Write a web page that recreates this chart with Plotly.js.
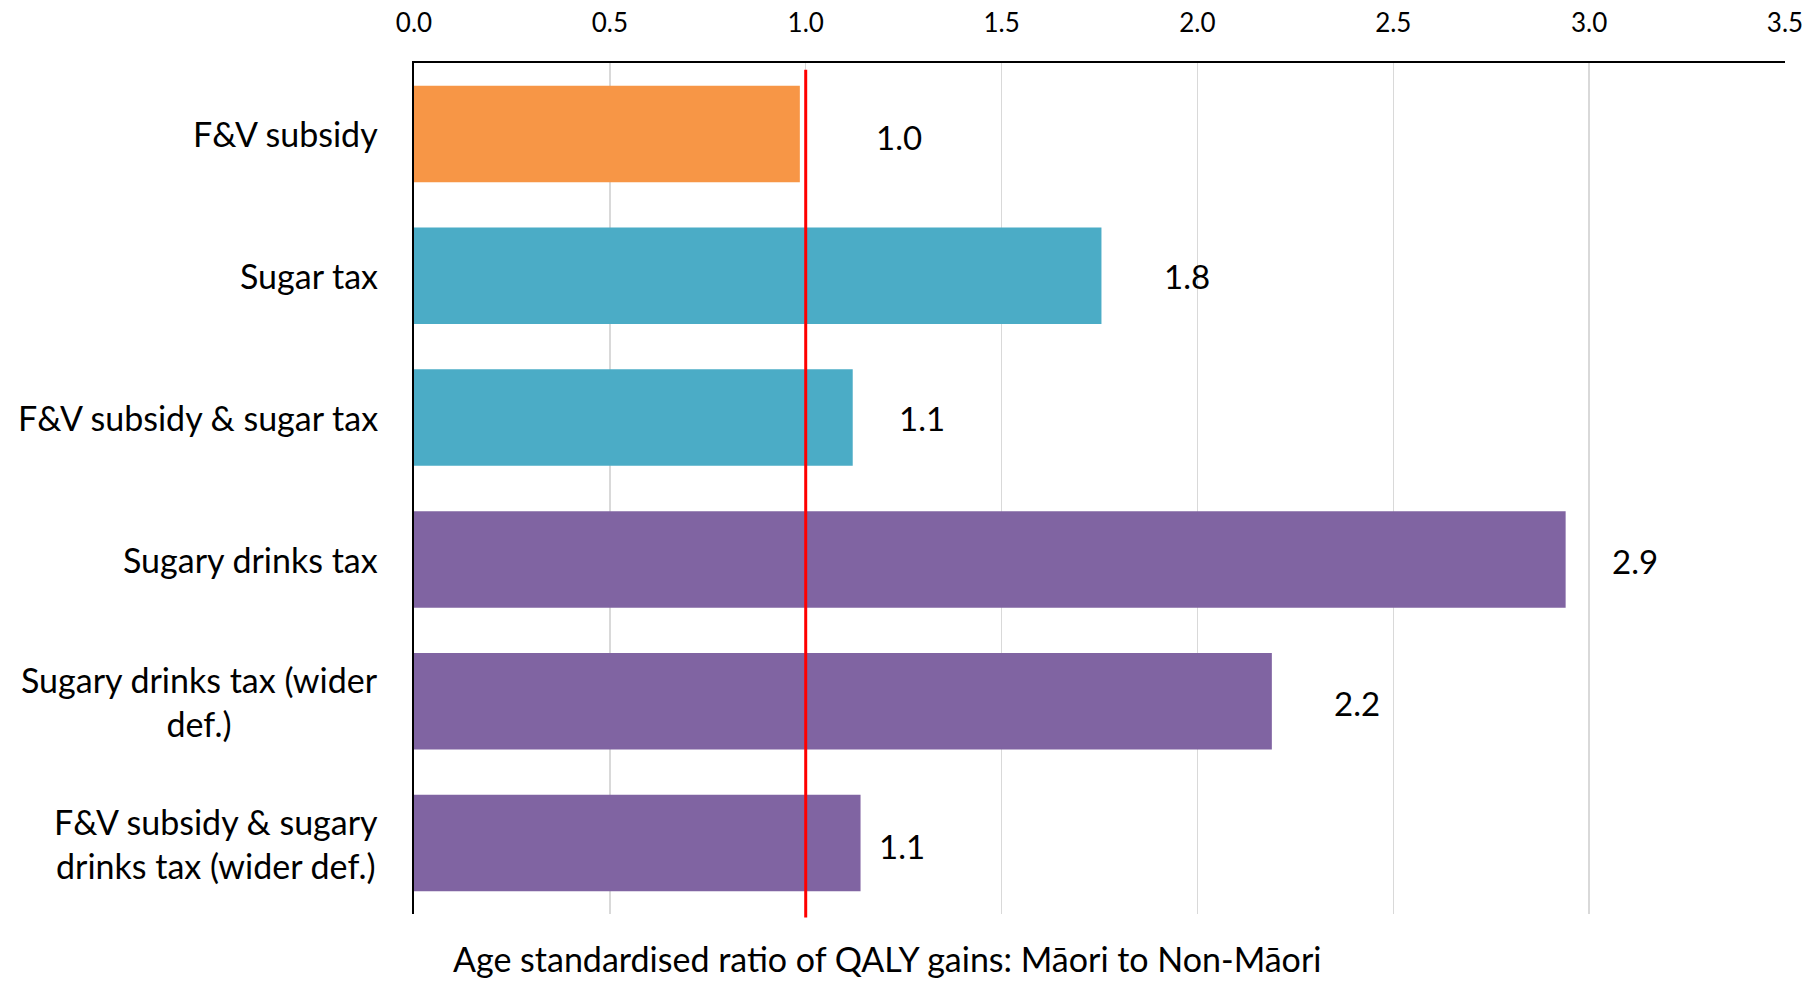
<!DOCTYPE html>
<html>
<head>
<meta charset="utf-8">
<script src="https://cdn.plot.ly/plotly-3.0.1.min.js"></script>
<style>
  html, body { margin: 0; padding: 0; background: #ffffff; }
  #chart { width: 1808px; height: 981px; }
</style>
</head>
<body>
<div id="chart"></div>
<script>
// ---- Data ----
const categories = [
  "F&V subsidy",
  "Sugar tax",
  "F&V subsidy & sugar tax",
  "Sugary drinks tax",
  "Sugary drinks tax (wider<br>def.)",
  "F&V subsidy & sugary<br>drinks tax (wider def.)"
];
const ratioValues = [0.985, 1.755, 1.12, 2.94, 2.19, 1.14];
const valueLabels = ["1.0", "1.8", "1.1", "2.9", "2.2", "1.1"];
const tickValues = [0, 0.5, 1.0, 1.5, 2.0, 2.5, 3.0, 3.5];
const tickLabels = ["0.0", "0.5", "1.0", "1.5", "2.0", "2.5", "3.0", "3.5"];
const referenceRatio = 1.0;
const axisTitle = "Age standardised ratio of QALY gains: Māori to Non-Māori";

// ---- Styles ----
const barColors = ["#F79646", "#4BACC6", "#4BACC6", "#8064A2", "#8064A2", "#8064A2"];
const labelShiftX = [99, 86, 69, 69, 85, 41];
const labelShiftY = [-3, 0, 0, -2, -2, -3];
const FONT = "Lato, 'Open Sans', sans-serif";

const trace = {
  type: "bar",
  orientation: "h",
  y: categories,
  x: ratioValues,
  marker: { color: barColors, line: { width: 0 } },
  hoverinfo: "x+y",
  showlegend: false
};

const annotations = [];
// value labels
for (let i = 0; i < categories.length; i++) {
  annotations.push({
    x: ratioValues[i], y: categories[i], xref: "x", yref: "y",
    text: valueLabels[i], showarrow: false,
    xanchor: "center", yanchor: "middle",
    xshift: labelShiftX[i], yshift: labelShiftY[i],
    font: { family: FONT, size: 33, color: "#000000" }
  });
}
// category labels (centre-aligned multi-line, like the original)
for (let i = 0; i < categories.length; i++) {
  annotations.push({
    x: 0, y: categories[i], xref: "paper", yref: "y",
    text: categories[i], showarrow: false,
    xanchor: "right", yanchor: "middle", align: "center",
    xshift: -34,
    font: { family: FONT, size: 34, color: "#000000" }
  });
}
// axis title at the bottom
annotations.push({
  x: 0.345, y: 0, xref: "paper", yref: "paper",
  text: axisTitle, showarrow: false,
  xanchor: "center", yanchor: "middle", yshift: -44,
  font: { family: FONT, size: 34, color: "#000000" }
});

const layout = {
  width: 1808,
  height: 981,
  paper_bgcolor: "#ffffff",
  plot_bgcolor: "#ffffff",
  margin: { l: 414, r: 23, t: 63, b: 67 },
  bargap: 0.32,
  font: { family: FONT, color: "#000000" },
  xaxis: {
    side: "top",
    range: [0, 3.5],
    tickmode: "array",
    tickvals: tickValues,
    ticktext: tickLabels,
    ticks: "",
    ticklabelstandoff: 19,
    tickfont: { family: FONT, size: 26, color: "#000000" },
    showgrid: true,
    gridcolor: "#d9d9d9",
    gridwidth: 1.5,
    zeroline: false,
    showline: true,
    linecolor: "#000000",
    linewidth: 2,
    mirror: false,
    fixedrange: true
  },
  yaxis: {
    type: "category",
    autorange: "reversed",
    showticklabels: false,
    ticks: "",
    showgrid: false,
    zeroline: false,
    showline: true,
    linecolor: "#000000",
    linewidth: 2,
    fixedrange: true
  },
  shapes: [{
    type: "line",
    xref: "x", yref: "paper",
    x0: referenceRatio, x1: referenceRatio,
    y0: -0.004, y1: 0.992,
    line: { color: "#FF0000", width: 3 },
    layer: "above"
  }],
  annotations: annotations
};

Plotly.newPlot("chart", [trace], layout, { displayModeBar: false, staticPlot: true });
</script>
</body>
</html>
